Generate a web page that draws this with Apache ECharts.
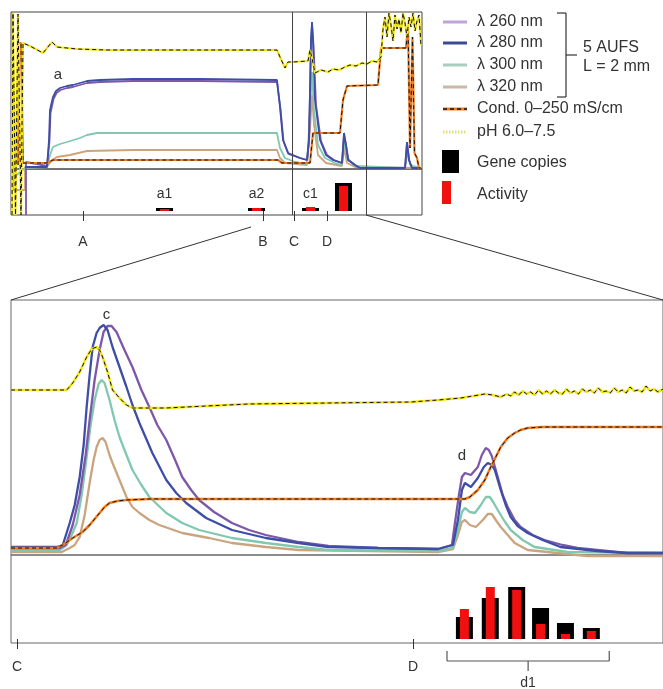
<!DOCTYPE html>
<html>
<head>
<meta charset="utf-8">
<title>Chromatogram</title>
<script src="https://cdn.jsdelivr.net/npm/echarts@6/dist/echarts.min.js"></script>
<style>
html,body{margin:0;padding:0;background:#fff;}
#chart{width:663px;height:689px;}
</style>
</head>
<body>
<div id="chart"></div>
<script>
// ---- overview run (top panel) : [run position, signal] ----
const run260 = [[3,-23],[3,3.5],[7.2,1.5],[7.7,14],[7.9,28],[8.5,35],[9.1,38],[9.9,39.5],[11.2,40.5],[12.4,41],[15.2,43],[17.8,43.5],[24.4,44],[37.8,44],[53.2,43.5],[53.9,30],[54.5,14],[55.5,7.5],[57.8,5.5],[59.2,4.5],[59.6,14],[60,62],[60.2,72],[60.5,62],[61,32],[62,14],[63.2,7],[64.6,4.5],[66.2,3],[66.6,17],[67,12],[67.5,4.5],[68.8,2],[69.8,0.5],[78.8,0.5],[79.2,13],[79.6,4.5],[80.2,0.5],[82,0.5]];
const run280 = [[2.8,1],[7.2,1],[7.6,14.5],[7.8,29.5],[8.4,36],[9,39],[9.8,40.5],[11.2,41.5],[12.4,42],[15.2,44],[17.8,44.5],[24.4,45],[37.8,45],[53.2,44.5],[53.8,31],[54.4,14.5],[55.4,8],[57.8,5.5],[59.2,4.5],[59.6,14.5],[60,64.5],[60.2,73.5],[60.4,64.5],[60.8,34.5],[61.8,14.5],[63,7],[64.4,4.5],[66.2,3],[66.6,18],[67,12],[67.4,4.5],[68.8,2],[69.8,0.5],[78.8,0.5],[79.2,13.5],[79.6,4.5],[80.2,0.5],[82,0.5]];
const run300 = [[0.6,-4],[1.6,-2],[2.8,0.5],[7.2,1],[7.8,7],[8.4,11],[9.8,12.5],[11.2,13.5],[13.8,15.5],[15.2,17],[17.2,18],[37.8,18],[53.2,18],[53.8,10.5],[54.8,5.5],[56.8,3.5],[59.2,2.5],[59.8,29.5],[60.2,48.5],[60.6,29.5],[61.4,12],[62.8,5.5],[64.8,3],[66.2,2],[66.6,14.5],[67.2,5.5],[68.8,1.5],[78.8,0.5],[79.4,9.5],[79.8,2],[82,0.5]];
const run320 = [[0.4,4.5],[0.4,-10.5],[2.8,-10.5],[2.8,1],[7.2,1],[8.2,4.5],[9.2,6],[11.8,7],[15.2,9],[24.4,9.5],[53.2,9.5],[53.8,5.5],[54.8,3],[59.2,2],[59.8,19.5],[60.2,37],[60.6,22],[61.4,7],[63,3],[66.2,1.5],[66.6,10.5],[67.2,3],[68.8,1],[82,0.5]];
const runCond = [[1.4,2],[1.4,63],[2,63],[2.4,3],[7.2,3],[8.4,4.5],[53.4,4.5],[54.2,3],[59.8,3],[60.4,18],[65.8,18],[66.4,34.5],[67.2,41.5],[73.4,42],[74,60.5],[79,60.5],[79.4,72],[79.8,10.5],[80.3,66],[80.7,8],[81.2,5.5],[81.6,0.5],[82,0.5]];
const runPH = [[0.2,-23],[0.4,78],[0.7,78],[0.9,-23],[1.2,-23],[1.4,77.5],[1.6,77.5],[2,-23],[2.2,-23],[2.4,63],[2.8,63],[3.8,61.5],[6.4,58],[8.2,63.5],[9.2,61],[13.2,60],[19.2,59.5],[53.2,59.5],[53.8,56],[54.8,50.5],[55.4,53.5],[56.4,53.5],[59.4,54],[59.8,59.5],[60.2,55.5],[60.8,48],[62,49.5],[63.4,48.5],[64.4,50],[65.6,49.5],[66.8,51],[67.8,52],[69,51.5],[70.2,53],[71.2,52.5],[72.2,54],[73.2,53.5],[74,56],[74.4,70],[74.8,76],[75.2,66],[75.6,78],[76,72],[76.4,64],[76.8,77],[77.2,70],[77.6,75],[78,68],[78.4,78],[78.8,73],[79.2,66],[79.6,76],[80,71],[80.4,78],[80.8,69],[81.2,74],[81.6,77],[82,62]];

// fractions in the overview
const runFractionX = [30.7, 49.1, 59.9, 66.5];
const runFractionLabels = ['a1', 'a2', 'c1', ''];
const runGene = [1.5, 1.5, 1.5, 14];
const runActivity = [1, 1.5, 2, 12.5];
const runTicks = [14.4, 50.4, 56.6, 63.2];
const runTickLabels = ['A', 'B', 'C', 'D'];
const runDividers = [56.2, 71];

// ---- zoom C to D (bottom panel) ----
const zoom260 = [[0,3.5],[9.8,3.5],[11,5],[12.4,15],[13.8,30],[15,50],[15.8,67.5],[16.8,87.5],[17.8,102.5],[18.6,111.5],[19.4,114.5],[20.2,114.5],[21.2,111.5],[22.8,102.5],[24.4,94],[26.2,82.5],[27.8,74],[29.4,65],[31.2,57.5],[32.8,48.5],[34.4,39],[36.2,32.5],[37.8,27.5],[40.8,21.5],[44.4,16],[47.8,12.5],[51.2,10],[57.8,6.5],[63.8,4.5],[73.8,3.5],[85.8,3],[88.6,5],[89.2,16],[90,30],[90.6,39],[91.2,41],[92.4,40],[93.8,44],[94.6,50],[95.4,53.5],[96,52.5],[96.6,49.5],[97.8,39],[98.8,30],[99.8,24],[101.2,17.5],[102.4,14],[104.8,10],[107.2,7.5],[110.8,5],[113.8,3.5],[123.8,1],[131,1]];
const zoom280 = [[0,4],[9.2,4],[10.4,5],[11.8,16],[12.8,25],[13.8,39],[14.6,55],[15.2,74],[15.8,90],[16.4,104],[17.2,111],[17.8,113.5],[18.6,115],[19.4,112.5],[20.4,104],[21.8,94],[23.2,84],[24.4,75],[25.8,66],[28.4,51],[31.2,37.5],[33.2,31],[35.2,26],[39.2,18.5],[44.4,12.5],[51.2,8.5],[57.8,6],[63.8,4],[73.8,3.5],[85.8,3],[88.8,5],[89.8,17.5],[90.6,32.5],[91.2,36],[92.4,34],[93.8,38.5],[95,44],[95.8,46],[96.6,45],[97.2,42.5],[98.4,32.5],[99.4,25],[100.4,19],[101.8,14.5],[103.8,11],[106.8,7.5],[110.4,4],[117.8,2],[123.8,1],[131,1]];
const zoom300 = [[0,2.5],[9.8,2.5],[11.2,5],[12.2,10],[13.2,16],[14.2,30],[15.2,49],[16,65],[16.8,77.5],[17.6,85.5],[18.2,87.5],[18.8,86],[19.8,77.5],[20.8,67.5],[21.8,59],[23.2,50],[24.4,42.5],[26.2,35],[27.8,29],[31.2,21],[34.4,16],[37.8,12.5],[44.4,8.5],[51.2,6],[57.8,4],[63.8,2.5],[85.8,2],[88.8,3.5],[89.8,12.5],[90.6,21.5],[91.2,23.5],[92.2,21.5],[93.2,21],[94.4,25],[95.4,29],[96.2,29],[97,26],[97.8,22.5],[99,17.5],[100.4,12.5],[102.8,7.5],[105.2,4],[111.8,1.5],[131,1]];
const zoom320 = [[0,1.5],[10.2,1.5],[11.8,3.5],[12.8,5],[13.8,9],[14.8,20],[15.8,36],[16.6,47.5],[17.2,54],[17.8,57.5],[18.4,58.5],[19,56.5],[19.8,50],[20.4,46],[21.8,37.5],[23.2,29],[24.4,24],[25.8,21],[27.8,17.5],[29.8,15],[34.4,11],[39.8,8.5],[44.4,6],[51.2,4],[57.8,2.5],[85.8,1.5],[88.8,3],[89.8,10],[90.6,16.5],[91.2,17.5],[92.2,15],[93.4,14],[94.8,17.5],[95.8,20.5],[96.6,20.5],[97.4,17.5],[98.4,14],[99.8,10],[101.2,6],[103.8,2.5],[109.8,1],[115.8,-0.5],[131,-0.5]];
const zoomCond = [[0,3.5],[9.2,3.5],[10.4,5],[12.4,8.5],[14.4,11.5],[15.8,15],[17.8,21],[18.8,24],[19.8,26],[21.4,27],[23.2,27.5],[27.8,28],[57.8,28],[91.2,28],[92.2,29],[93.8,32.5],[95.2,37.5],[96.4,44],[97.4,49],[98.4,54],[99.8,58.5],[101.2,61],[102.4,62.5],[103.8,63.5],[106.8,64],[131,64]];
const zoomPH = [[0,82.5],[11.2,82.5],[12.4,86],[13.8,91.5],[15.2,99],[16.2,103],[17.2,104],[17.8,102.5],[18.4,99],[19.4,91.5],[20.4,82.5],[21.8,78.5],[23.2,75],[24.4,73.5],[31.2,73.5],[39.2,74.5],[47.8,75.5],[63.8,76],[80.4,76.5],[85.8,77.5],[90.4,78.5],[95.2,80.5],[96.8,80],[98.4,79],[99.6,80.5],[100.4,79.5],[101.2,81.5],[102,80],[102.8,82],[103.6,80.5],[104.4,81.5],[105.2,80],[106,82.5],[106.8,80.5],[107.6,82],[108.4,80.5],[109.2,82.5],[110,81],[110.8,80.5],[111.6,83],[112.4,81],[113.2,82],[114,80.5],[114.8,83],[115.6,81.5],[116.4,82.5],[117.2,81],[118,83.5],[118.8,81.5],[119.6,82],[120.4,81],[121.2,83.5],[122,81.5],[122.8,82.5],[123.6,81],[124.4,84],[125.2,82],[126,82.5],[126.8,81.5],[127.6,84.5],[128.4,82],[129.2,83],[130,81.5],[131,83]];

// fractions of peak d
const zoomFractionX = [91.1, 96.3, 101.6, 106.4, 111.4, 116.6];
const geneCopies = [11, 20.5, 26, 15.5, 8, 5.5];
const activity = [15, 26, 24.5, 7.5, 2.5, 4];
const zoomTicks = [1.2, 80.8];
const zoomTickLabels = ['C', 'D'];
const d1Range = [87.6, 120.2];

const FONT = '"Liberation Sans", Arial, sans-serif';
const col = {
  a260: '#7d58a9', a280: '#3d4ea6', a300: '#80c8ae', a320: '#caa47f',
  cond: '#f07c22', ph: '#f2e51c'
};

function zip(xs, ys) { return xs.map((x, i) => [x, ys[i]]); }

function trace(data, color, width, axis, extra) {
  return Object.assign({
    type: 'line', data: data, xAxisIndex: axis, yAxisIndex: axis === 3 ? 2 : 0,
    symbol: 'none', clip: false, silent: true,
    lineStyle: { color: color, width: width }
  }, extra || {});
}
function dashed(data, axis) {
  return trace(data, '#111', 1, axis, { lineStyle: { color: '#111', width: 1, type: [4, 3] } });
}

const tickLabel = (vals, labels) => v => {
  const i = vals.findIndex(t => Math.abs(t - v) < 0.01);
  return i < 0 ? '' : labels[i];
};

const hidden = (grid, max) => ({ type: 'value', gridIndex: grid, min: 0, max: max, show: false });
const ticked = (grid, max, vals, labels, margin) => ({
  type: 'value', gridIndex: grid, min: 0, max: max, position: 'bottom',
  axisLine: { show: false }, splitLine: { show: false },
  axisTick: { show: true, length: 10, customValues: vals, lineStyle: { color: '#333', width: 1 } },
  axisLabel: { show: true, customValues: vals, margin: margin, formatter: tickLabel(vals, labels),
    color: '#333', fontSize: 14, fontFamily: FONT }
});

const border = { show: true, borderColor: '#444', borderWidth: 1, backgroundColor: 'transparent' };
const divider = vals => ({
  silent: true, symbol: 'none', label: { show: false },
  lineStyle: { color: '#444', width: 1, type: 'solid' },
  data: vals.map(v => ({ xAxis: v }))
});

const option = {
  animation: false,
  backgroundColor: '#fff',
  grid: [
    Object.assign({ left: 11, top: 12, width: 411, height: 157 }, border),
    Object.assign({ left: 11, top: 169, width: 411, height: 46 }, border),
    Object.assign({ left: 11, top: 300, width: 655, height: 255 }, border, { borderColor: '#666' }),
    Object.assign({ left: 11, top: 555, width: 655, height: 88 }, border, { borderColor: '#666' })
  ],
  xAxis: [
    hidden(0, 82.2),
    ticked(1, 82.2, runTicks, runTickLabels, 20),
    hidden(1, 82.2),
    hidden(2, 131),
    ticked(3, 131, zoomTicks, zoomTickLabels, 17),
    hidden(3, 131)
  ],
  yAxis: [
    { type: 'value', gridIndex: 0, min: 0, max: 78.5, show: false },
    { type: 'value', gridIndex: 1, min: -2, max: 21, show: false },
    { type: 'value', gridIndex: 2, min: 0, max: 127.5, show: false },
    { type: 'value', gridIndex: 3, min: -2, max: 42, show: false }
  ],
  series: [
    // overview traces
    trace(run320, col.a320, 1.8, 0, { markLine: divider(runDividers) }),
    trace(run300, col.a300, 1.8, 0),
    trace(run260, col.a260, 1.8, 0),
    trace(run280, col.a280, 1.8, 0),
    trace(runCond, col.cond, 2.2, 0),
    dashed(runCond, 0),
    trace(runPH, col.ph, 2.2, 0),
    dashed(runPH, 0),
    // overview fractions
    { type: 'bar', xAxisIndex: 1, yAxisIndex: 1, data: zip(runFractionX, runGene), barWidth: 17,
      itemStyle: { color: '#000' }, silent: true, markLine: divider(runDividers),
      label: { show: true, position: 'top', distance: 7, color: '#333', fontSize: 14, fontFamily: FONT,
        formatter: p => runFractionLabels[p.dataIndex] } },
    { type: 'bar', xAxisIndex: 2, yAxisIndex: 1, data: zip(runFractionX, runActivity), barWidth: 9,
      itemStyle: { color: '#f01010' }, silent: true },
    // zoom traces
    trace(zoom320, col.a320, 2.3, 3),
    trace(zoom300, col.a300, 2.3, 3),
    trace(zoom260, col.a260, 2.3, 3),
    trace(zoom280, col.a280, 2.3, 3),
    trace(zoomCond, col.cond, 2.5, 3),
    dashed(zoomCond, 3),
    trace(zoomPH, col.ph, 2.5, 3),
    dashed(zoomPH, 3),
    // zoom fractions
    { type: 'bar', xAxisIndex: 4, yAxisIndex: 3, data: zip(zoomFractionX, geneCopies), barWidth: 17,
      itemStyle: { color: '#000' }, silent: true },
    { type: 'bar', xAxisIndex: 5, yAxisIndex: 3, data: zip(zoomFractionX, activity), barWidth: 9,
      itemStyle: { color: '#f01010' }, silent: true }
  ]
};

const chart = echarts.init(document.getElementById('chart'));
chart.setOption(option);

// annotations and legend
const txt = (text, x, y, size, align) => ({
  type: 'text', silent: true,
  style: { text: text, x: x, y: y, fill: '#333', font: size + 'px ' + FONT, align: align || 'left', verticalAlign: 'middle' }
});
const seg = (x1, y1, x2, y2, stroke, w, dash) => ({
  type: 'line', silent: true,
  shape: { x1: x1, y1: y1, x2: x2, y2: y2 },
  style: { stroke: stroke, lineWidth: w, lineDash: dash || null }
});

const g = [];
const peakLabels = [['a', 0, [9.4, 47]], ['c', 3, [19.2, 120]], ['d', 3, [90.6, 49.5]]];
peakLabels.forEach(([t, ax, c]) => {
  const p = chart.convertToPixel({ xAxisIndex: ax, yAxisIndex: ax === 3 ? 2 : 0 }, c);
  g.push(txt(t, p[0], p[1], 15, 'center'));
});

// d1 bracket
const bx0 = chart.convertToPixel({ xAxisIndex: 4 }, d1Range[0]);
const bx1 = chart.convertToPixel({ xAxisIndex: 4 }, d1Range[1]);
const bm = (bx0 + bx1) / 2;
g.push(seg(bx0, 651, bx0, 661, '#555', 1.2), seg(bx1, 651, bx1, 661, '#555', 1.2),
  seg(bx0, 661, bx1, 661, '#555', 1.2), seg(bm, 661, bm, 671, '#555', 1.2),
  txt('d1', bm, 683, 14, 'center'));

// zoom connectors
g.push(seg(251, 227, 11, 300, '#333', 1), seg(366, 215, 663, 300, '#333', 1));

// legend
const legendRows = [
  ['λ 260 nm', 22, '#bea5d8'], ['λ 280 nm', 43, '#3c4a98'],
  ['λ 300 nm', 65, '#abcdbf'], ['λ 320 nm', 87, '#cfb8a3']
];
legendRows.forEach(([t, y, c]) => { g.push(seg(443, y, 467, y, c, 3), txt(t, 477, y, 16)); });
g.push(seg(443, 109, 467, 109, col.cond, 3), seg(443, 109, 467, 109, '#111', 1.5, [4, 3]), txt('Cond. 0–250 mS/cm', 477, 109, 16));
g.push(seg(443, 132, 467, 132, '#dfe07a', 3, [1.5, 1.5]), txt('pH 6.0–7.5', 477, 132, 16));
g.push({ type: 'rect', silent: true, shape: { x: 442, y: 150, width: 17, height: 23 }, style: { fill: '#000' } }, txt('Gene copies', 477, 163, 16));
g.push({ type: 'rect', silent: true, shape: { x: 442, y: 181, width: 9, height: 23 }, style: { fill: '#f01010' } }, txt('Activity', 477, 195, 16));
g.push(seg(557, 13, 566, 13, '#333', 1.2), seg(566, 13, 566, 97, '#333', 1.2), seg(557, 97, 566, 97, '#333', 1.2),
  seg(566, 55, 577, 55, '#333', 1.2), txt('5 AUFS', 583, 48, 16), txt('L = 2 mm', 583, 67, 16));

chart.setOption({ graphic: g });
</script>
</body>
</html>
